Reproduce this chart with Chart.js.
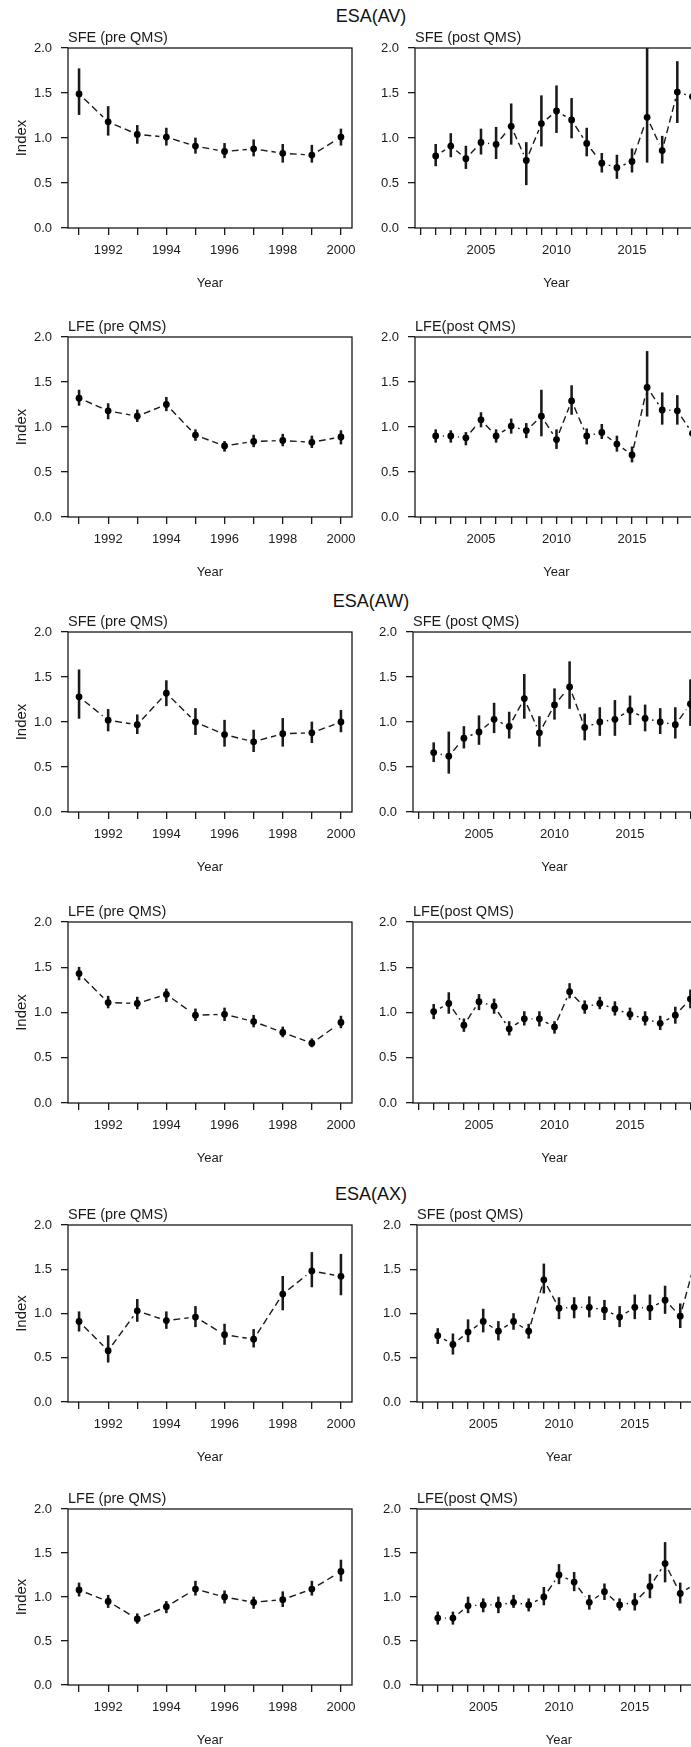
<!DOCTYPE html>
<html>
<head>
<meta charset="utf-8">
<title>ESA abundance indices</title>
<script src="https://cdn.jsdelivr.net/npm/chart.js@4.4.1/dist/chart.umd.min.js"></script>
<style>
  html, body { margin: 0; padding: 0; width: 691px; height: 1747px; overflow: hidden; background: #fff; }
  .heading {
    position: absolute; transform: translate(-50%, -50%); white-space: nowrap;
    font-family: "Liberation Sans", Arial, Helvetica, sans-serif; font-size: 18px; color: #111;
  }
  canvas { position: absolute; }
</style>
</head>
<body>
<div class="heading" style="left:371px; top:16px">ESA(AV)</div>
<div class="heading" style="left:371px; top:601px">ESA(AW)</div>
<div class="heading" style="left:371px; top:1194px">ESA(AX)</div>

<script>
// ---- years and tick labelling ----
const preYears  = [1991, 1992, 1993, 1994, 1995, 1996, 1997, 1998, 1999, 2000];
const postYears = [2002, 2003, 2004, 2005, 2006, 2007, 2008, 2009, 2010, 2011,
                   2012, 2013, 2014, 2015, 2016, 2017, 2018, 2019];
const preLabelEvery  = 2;   // 1992, 1994, ... labelled
const postLabelEvery = 5;   // 2005, 2010, 2015 labelled
const yTicks = [0.0, 0.5, 1.0, 1.5, 2.0];

// ---- ESA(AV) ----
const avSfePre   = [1.49, 1.18, 1.04, 1.01, 0.91, 0.85, 0.88, 0.83, 0.81, 1.01];
const avSfePreLo = [1.26, 1.03, 0.94, 0.92, 0.83, 0.78, 0.80, 0.73, 0.73, 0.92];
const avSfePreHi = [1.77, 1.35, 1.14, 1.11, 1.00, 0.94, 0.98, 0.93, 0.92, 1.10];

const avSfePost   = [0.80, 0.91, 0.77, 0.95, 0.93, 1.13, 0.75, 1.16, 1.30, 1.20, 0.94, 0.72, 0.67, 0.74, 1.23, 0.86, 1.51, 1.46];
const avSfePostLo = [0.69, 0.79, 0.66, 0.82, 0.77, 0.93, 0.48, 0.91, 1.06, 1.00, 0.80, 0.62, 0.55, 0.62, 0.73, 0.72, 1.17, 1.20];
const avSfePostHi = [0.93, 1.05, 0.91, 1.10, 1.12, 1.38, 0.95, 1.47, 1.58, 1.44, 1.11, 0.83, 0.81, 0.88, 2.10, 1.02, 1.85, 1.75];

const avLfePre   = [1.32, 1.18, 1.12, 1.25, 0.91, 0.79, 0.84, 0.85, 0.83, 0.89];
const avLfePreLo = [1.24, 1.09, 1.06, 1.18, 0.85, 0.73, 0.78, 0.79, 0.77, 0.81];
const avLfePreHi = [1.41, 1.26, 1.19, 1.33, 0.97, 0.84, 0.91, 0.92, 0.90, 0.96];

const avLfePost   = [0.90, 0.90, 0.88, 1.08, 0.90, 1.01, 0.96, 1.12, 0.86, 1.29, 0.90, 0.94, 0.81, 0.69, 1.44, 1.19, 1.18, 0.93];
const avLfePostLo = [0.83, 0.83, 0.80, 1.00, 0.83, 0.93, 0.88, 0.90, 0.76, 1.14, 0.81, 0.87, 0.73, 0.61, 1.12, 1.03, 1.03, 0.80];
const avLfePostHi = [0.97, 0.96, 0.94, 1.16, 0.97, 1.09, 1.04, 1.41, 0.97, 1.46, 0.98, 1.03, 0.90, 0.78, 1.84, 1.38, 1.35, 1.06];

// ---- ESA(AW) ----
const awSfePre   = [1.28, 1.02, 0.97, 1.32, 1.00, 0.86, 0.78, 0.87, 0.88, 1.00];
const awSfePreLo = [1.04, 0.90, 0.87, 1.18, 0.86, 0.73, 0.67, 0.73, 0.77, 0.89];
const awSfePreHi = [1.58, 1.14, 1.08, 1.46, 1.15, 1.02, 0.91, 1.04, 1.00, 1.13];

const awSfePost   = [0.66, 0.62, 0.82, 0.89, 1.03, 0.95, 1.26, 0.88, 1.19, 1.39, 0.94, 1.00, 1.03, 1.13, 1.04, 1.00, 0.97, 1.20];
const awSfePostLo = [0.56, 0.43, 0.71, 0.75, 0.88, 0.82, 1.04, 0.73, 1.03, 1.15, 0.80, 0.85, 0.85, 0.97, 0.90, 0.87, 0.82, 0.96];
const awSfePostHi = [0.77, 0.89, 0.95, 1.07, 1.21, 1.11, 1.53, 1.06, 1.37, 1.67, 1.09, 1.16, 1.24, 1.29, 1.19, 1.15, 1.16, 1.47];

const awLfePre   = [1.43, 1.11, 1.10, 1.20, 0.97, 0.98, 0.90, 0.78, 0.66, 0.89];
const awLfePreLo = [1.36, 1.05, 1.04, 1.12, 0.91, 0.91, 0.84, 0.73, 0.62, 0.83];
const awLfePreHi = [1.50, 1.18, 1.17, 1.26, 1.04, 1.05, 0.97, 0.84, 0.71, 0.96];

const awLfePost   = [1.01, 1.10, 0.86, 1.12, 1.07, 0.82, 0.93, 0.93, 0.84, 1.23, 1.06, 1.10, 1.04, 0.98, 0.93, 0.88, 0.97, 1.15];
const awLfePostLo = [0.93, 0.99, 0.79, 1.03, 0.99, 0.75, 0.86, 0.85, 0.77, 1.16, 0.99, 1.04, 0.97, 0.92, 0.86, 0.81, 0.88, 1.05];
const awLfePostHi = [1.09, 1.22, 0.93, 1.20, 1.15, 0.90, 1.01, 1.01, 0.90, 1.32, 1.13, 1.17, 1.12, 1.05, 1.01, 0.96, 1.06, 1.25];

// ---- ESA(AX) ----
const axSfePre   = [0.91, 0.58, 1.03, 0.92, 0.96, 0.76, 0.71, 1.22, 1.48, 1.42];
const axSfePreLo = [0.80, 0.45, 0.91, 0.83, 0.85, 0.65, 0.62, 1.04, 1.30, 1.21];
const axSfePreHi = [1.02, 0.75, 1.16, 1.02, 1.08, 0.88, 0.82, 1.42, 1.69, 1.67];

const axSfePost   = [0.75, 0.65, 0.79, 0.91, 0.80, 0.91, 0.80, 1.38, 1.06, 1.07, 1.07, 1.04, 0.96, 1.07, 1.06, 1.15, 0.97, 1.60];
const axSfePostLo = [0.66, 0.54, 0.68, 0.79, 0.70, 0.82, 0.72, 1.23, 0.94, 0.95, 0.96, 0.93, 0.85, 0.94, 0.93, 1.00, 0.84, 1.40];
const axSfePostHi = [0.83, 0.77, 0.93, 1.05, 0.91, 1.00, 0.88, 1.56, 1.18, 1.18, 1.19, 1.15, 1.08, 1.21, 1.21, 1.31, 1.11, 1.85];

const axLfePre   = [1.08, 0.95, 0.75, 0.89, 1.09, 1.00, 0.94, 0.97, 1.09, 1.29];
const axLfePreLo = [1.01, 0.88, 0.70, 0.82, 1.02, 0.93, 0.87, 0.89, 1.02, 1.18];
const axLfePreHi = [1.16, 1.02, 0.81, 0.95, 1.18, 1.07, 1.00, 1.06, 1.18, 1.42];

const axLfePost   = [0.76, 0.76, 0.90, 0.91, 0.91, 0.94, 0.91, 1.00, 1.25, 1.17, 0.94, 1.06, 0.91, 0.94, 1.12, 1.38, 1.04, 1.15];
const axLfePostLo = [0.69, 0.69, 0.82, 0.83, 0.82, 0.88, 0.84, 0.91, 1.15, 1.07, 0.86, 0.97, 0.85, 0.85, 0.99, 1.17, 0.93, 1.02];
const axLfePostHi = [0.83, 0.83, 1.00, 0.98, 1.00, 1.02, 0.98, 1.11, 1.37, 1.28, 1.02, 1.15, 0.98, 1.04, 1.26, 1.62, 1.16, 1.30];

// ---- layout ----
const FONT = '"Liberation Sans", Arial, Helvetica, sans-serif';
const INK = '#1a1a1a';
const PAD_TOP = 48;      // room above the plot box for the panel title
const X_AXIS_H = 66;     // tick marks, year labels and "Year"
const GAP = 7;           // blank radius around each point on the connecting line
const DASH = [7, 4];
const DASH_PERIOD = DASH[0] + DASH[1];
const DASH_START = (DASH_PERIOD - (GAP % DASH_PERIOD)) % DASH_PERIOD;

const PRE_RANGE  = [1990.62, 2000.38];
const POST_RANGE = [2000.63, 2019.37];

const panels = [
  { title: 'SFE (pre QMS)',  years: preYears,  v: avSfePre,  lo: avSfePreLo,  hi: avSfePreHi,  left: 0,   yW: 68, width: 372, padR: 20, top: 48,   h: 180, range: PRE_RANGE,  every: preLabelEvery,  index: true },
  { title: 'SFE (post QMS)', years: postYears, v: avSfePost, lo: avSfePostLo, hi: avSfePostHi, left: 345, yW: 70, width: 380, padR: 27, top: 48,   h: 180, range: POST_RANGE, every: postLabelEvery, index: false },
  { title: 'LFE (pre QMS)',  years: preYears,  v: avLfePre,  lo: avLfePreLo,  hi: avLfePreHi,  left: 0,   yW: 68, width: 372, padR: 20, top: 337,  h: 180, range: PRE_RANGE,  every: preLabelEvery,  index: true },
  { title: 'LFE(post QMS)',  years: postYears, v: avLfePost, lo: avLfePostLo, hi: avLfePostHi, left: 345, yW: 70, width: 380, padR: 27, top: 337,  h: 180, range: POST_RANGE, every: postLabelEvery, index: false },

  { title: 'SFE (pre QMS)',  years: preYears,  v: awSfePre,  lo: awSfePreLo,  hi: awSfePreHi,  left: 0,   yW: 68, width: 372, padR: 20, top: 632,  h: 180, range: PRE_RANGE,  every: preLabelEvery,  index: true },
  { title: 'SFE (post QMS)', years: postYears, v: awSfePost, lo: awSfePostLo, hi: awSfePostHi, left: 345, yW: 68, width: 380, padR: 29, top: 632,  h: 180, range: POST_RANGE, every: postLabelEvery, index: false },
  { title: 'LFE (pre QMS)',  years: preYears,  v: awLfePre,  lo: awLfePreLo,  hi: awLfePreHi,  left: 0,   yW: 68, width: 372, padR: 20, top: 922,  h: 181, range: PRE_RANGE,  every: preLabelEvery,  index: true },
  { title: 'LFE(post QMS)',  years: postYears, v: awLfePost, lo: awLfePostLo, hi: awLfePostHi, left: 345, yW: 68, width: 380, padR: 29, top: 922,  h: 181, range: POST_RANGE, every: postLabelEvery, index: false },

  { title: 'SFE (pre QMS)',  years: preYears,  v: axSfePre,  lo: axSfePreLo,  hi: axSfePreHi,  left: 0,   yW: 68, width: 372, padR: 20, top: 1225, h: 177, range: PRE_RANGE,  every: preLabelEvery,  index: true },
  { title: 'SFE (post QMS)', years: postYears, v: axSfePost, lo: axSfePostLo, hi: axSfePostHi, left: 345, yW: 72, width: 380, padR: 24, top: 1225, h: 177, range: POST_RANGE, every: postLabelEvery, index: false },
  { title: 'LFE (pre QMS)',  years: preYears,  v: axLfePre,  lo: axLfePreLo,  hi: axLfePreHi,  left: 0,   yW: 68, width: 372, padR: 20, top: 1509, h: 176, range: PRE_RANGE,  every: preLabelEvery,  index: true },
  { title: 'LFE(post QMS)',  years: postYears, v: axLfePost, lo: axLfePostLo, hi: axLfePostHi, left: 345, yW: 72, width: 380, padR: 24, top: 1509, h: 176, range: POST_RANGE, every: postLabelEvery, index: false }
];

// Box around the plotting region plus the panel title above its top-left corner
const framePlugin = {
  id: 'frame',
  afterDraw(chart, args, opts) {
    const { ctx, chartArea: a } = chart;
    ctx.save();
    ctx.strokeStyle = INK;
    ctx.lineWidth = 1.3;
    ctx.strokeRect(a.left, a.top, a.right - a.left, a.bottom - a.top);
    ctx.fillStyle = INK;
    ctx.font = '14.5px ' + FONT;
    ctx.textAlign = 'left';
    ctx.textBaseline = 'middle';
    ctx.fillText(opts.text, a.left, a.top - 10.5);
    ctx.restore();
  }
};

function axisGrid() {
  return { display: true, drawOnChartArea: false, drawTicks: true, tickLength: 7,
           color: INK, lineWidth: 1.3, offset: false };
}

function buildPanel(p) {
  const canvas = document.createElement('canvas');
  const w = p.width, h = PAD_TOP + p.h + X_AXIS_H;
  canvas.width = w; canvas.height = h;
  canvas.style.left = p.left + 'px';
  canvas.style.top = (p.top - PAD_TOP) + 'px';
  canvas.style.width = w + 'px';
  canvas.style.height = h + 'px';
  document.body.appendChild(canvas);

  const points = p.years.map((x, i) => ({ x, y: p.v[i] }));
  const bars = p.years.map((x, i) => ({ x, y: [p.lo[i], p.hi[i]] }));

  new Chart(canvas, {
    type: 'bar',
    data: {
      datasets: [
        { // dashed connecting line, broken around every point
          type: 'line', data: points, order: 3,
          borderColor: INK, borderWidth: 1.4, borderDash: DASH, tension: 0, fill: false,
          segment: { borderDashOffset: c => (c.p0DataIndex % 2 ? DASH_START : DASH_START + DASH_PERIOD) },
          pointRadius: GAP, pointHoverRadius: GAP, pointBackgroundColor: '#fff', pointBorderWidth: 0
        },
        { // confidence intervals
          type: 'bar', data: bars, order: 2,
          backgroundColor: INK, borderWidth: 0, barThickness: 1.9
        },
        { // index values
          type: 'line', data: points, order: 1, showLine: false,
          pointRadius: 3.4, pointHoverRadius: 3.4, pointBackgroundColor: '#000', pointBorderWidth: 0
        }
      ]
    },
    options: {
      responsive: false, animation: false, events: [],
      layout: { padding: { left: 0, top: PAD_TOP, right: p.padR, bottom: 0 } },
      plugins: { legend: { display: false }, tooltip: { enabled: false }, frame: { text: p.title } },
      scales: {
        x: {
          type: 'linear', min: p.range[0], max: p.range[1], offset: false,
          afterFit: s => { s.height = X_AXIS_H; },
          border: { display: false },
          grid: axisGrid(),
          ticks: {
            stepSize: 1, includeBounds: false, autoSkip: false, maxRotation: 0, minRotation: 0,
            padding: 8, color: INK, font: { size: 13, family: FONT },
            callback: v => (v % p.every === 0 ? String(v) : '')
          },
          title: { display: true, text: 'Year', color: INK, font: { size: 13, family: FONT },
                   padding: { top: 0, bottom: 3 } }
        },
        y: {
          type: 'linear', min: 0, max: 2,
          afterFit: s => { s.width = p.yW; },
          afterBuildTicks: s => { s.ticks = yTicks.map(value => ({ value })); },
          border: { display: false },
          grid: axisGrid(),
          ticks: { padding: 9, color: INK, font: { size: 13, family: FONT },
                   callback: v => Number(v).toFixed(1) },
          title: { display: p.index, text: 'Index', color: INK, font: { size: 15, family: FONT },
                   padding: { top: 12.7, bottom: 0 } }
        }
      }
    },
    plugins: [framePlugin]
  });
}

panels.forEach(buildPanel);
</script>
</body>
</html>
